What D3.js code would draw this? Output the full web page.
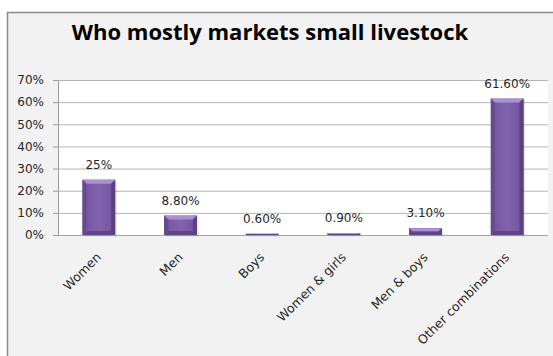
<!DOCTYPE html>
<html>
<head>
<meta charset="utf-8">
<script src="https://cdn.jsdelivr.net/npm/d3@7/dist/d3.min.js"></script>
<style>
  html, body { margin: 0; padding: 0; background: #ffffff; }
  svg { display: block; }
</style>
</head>
<body>
<svg id="chart" width="553" height="356"></svg>
<script>
// Who mostly markets small livestock (share of households, %)
const categories = ["Women", "Men", "Boys", "Women & girls", "Men & boys", "Other combinations"];
const values = [25, 8.8, 0.6, 0.9, 3.1, 61.6];
const yTicks = [0, 10, 20, 30, 40, 50, 60, 70];
const titleText = "Who mostly markets small livestock";

const fmtValue = v => (Number.isInteger(v) ? v : v.toFixed(2)) + "%";

const svg = d3.select("#chart");

// chart frame
svg.append("rect")
  .attr("x", 7.5).attr("y", 12.5)
  .attr("width", 560).attr("height", 360)
  .attr("fill", "#f2f2f2")
  .attr("stroke", "#8c8c8c").attr("stroke-width", 1.5);

// title
svg.append("text")
  .attr("x", 270).attr("y", 40)
  .attr("text-anchor", "middle")
  .attr("font-family", "'Open Sans', sans-serif")
  .attr("font-weight", "bold")
  .attr("font-size", 22)
  .attr("fill", "#000")
  .text(titleText);

const plot = { left: 58, right: 548, top: 80, bottom: 235 };

const x = d3.scaleBand()
  .domain(categories)
  .range([plot.left, plot.right])
  .paddingInner(0.6)
  .paddingOuter(0.3);

const y = d3.scaleLinear()
  .domain([0, 70])
  .range([plot.bottom, plot.top]);

// plot background
svg.append("rect")
  .attr("x", plot.left).attr("y", plot.top)
  .attr("width", plot.right - plot.left)
  .attr("height", plot.bottom - plot.top)
  .attr("fill", "#ffffff");

// y axis
const yAxis = d3.axisLeft(y)
  .tickValues(yTicks)
  .tickFormat(d => d + "%")
  .tickSize(5)
  .tickPadding(9);

const gy = svg.append("g")
  .attr("transform", `translate(${plot.left},0)`)
  .call(yAxis);
gy.select(".domain").attr("stroke", "#9a9a9a");
gy.selectAll(".tick line").attr("stroke", "#9a9a9a");
gy.selectAll(".tick text")
  .attr("font-family", "'DejaVu Sans', sans-serif")
  .attr("font-size", 12)
  .attr("fill", "#262626");

// horizontal gridlines
svg.append("g")
  .selectAll("line")
  .data(yTicks)
  .join("line")
  .attr("x1", plot.left).attr("x2", plot.right)
  .attr("y1", d => y(d) + 0.5).attr("y2", d => y(d) + 0.5)
  .attr("stroke", d => d === 0 ? "#a6a6a6" : "#b4b4b4")
  .attr("stroke-width", 1);

// bar shading
const defs = svg.append("defs");
const grad = defs.append("linearGradient").attr("id", "barFill")
  .attr("x1", 0).attr("x2", 1).attr("y1", 0).attr("y2", 0);
grad.append("stop").attr("offset", 0).attr("stop-color", "#5f4488");
grad.append("stop").attr("offset", 0.12).attr("stop-color", "#7656a2");
grad.append("stop").attr("offset", 0.5).attr("stop-color", "#8264ae");
grad.append("stop").attr("offset", 0.88).attr("stop-color", "#7656a2");
grad.append("stop").attr("offset", 1).attr("stop-color", "#5f4488");

const bevel = 4;
const bars = svg.append("g");
const bw = x.bandwidth();
const pts = arr => arr.map(p => p.join(",")).join(" ");

categories.forEach((c, i) => {
  const v = values[i];
  const x0 = x(c), x1 = x0 + bw;
  const yt = y(v), yb = y(0);
  const h = yb - yt;
  const b = Math.min(bevel, h / 2);
  const g = bars.append("g");
  // soft shadow
  g.append("rect")
    .attr("x", x0 + 1.5).attr("y", yt + 1.5)
    .attr("width", bw).attr("height", h)
    .attr("fill", "#000").attr("opacity", 0.1);
  g.append("rect")
    .attr("x", x0).attr("y", yt)
    .attr("width", bw).attr("height", h)
    .attr("fill", "url(#barFill)");
  // bevelled edges
  g.append("polygon")
    .attr("points", pts([[x0, yt], [x1, yt], [x1 - b, yt + b], [x0 + b, yt + b]]))
    .attr("fill", "#a892d0");
  g.append("polygon")
    .attr("points", pts([[x0, yb], [x1, yb], [x1 - b, yb - b], [x0 + b, yb - b]]))
    .attr("fill", "#5e4386");
  g.append("polygon")
    .attr("points", pts([[x0, yt], [x0 + b, yt + b], [x0 + b, yb - b], [x0, yb]]))
    .attr("fill", "#674b90");
  g.append("polygon")
    .attr("points", pts([[x1, yt], [x1 - b, yt + b], [x1 - b, yb - b], [x1, yb]]))
    .attr("fill", "#5a417e");
});

// value labels
svg.append("g")
  .selectAll("text")
  .data(categories)
  .join("text")
  .attr("x", d => x(d) + bw / 2)
  .attr("y", (d, i) => y(values[i]) - 11)
  .attr("text-anchor", "middle")
  .attr("font-family", "'DejaVu Sans', sans-serif")
  .attr("font-size", 12)
  .attr("fill", "#262626")
  .text((d, i) => fmtValue(values[i]));

// category labels, rotated
svg.append("g")
  .selectAll("text")
  .data(categories)
  .join("text")
  .attr("transform", d => `translate(${x(d) + bw / 2 + 3},${plot.bottom + 23}) rotate(-45)`)
  .attr("text-anchor", "end")
  .attr("font-family", "'DejaVu Sans', sans-serif")
  .attr("font-size", 12.5)
  .attr("fill", "#262626")
  .text(d => d);
</script>
</body>
</html>
